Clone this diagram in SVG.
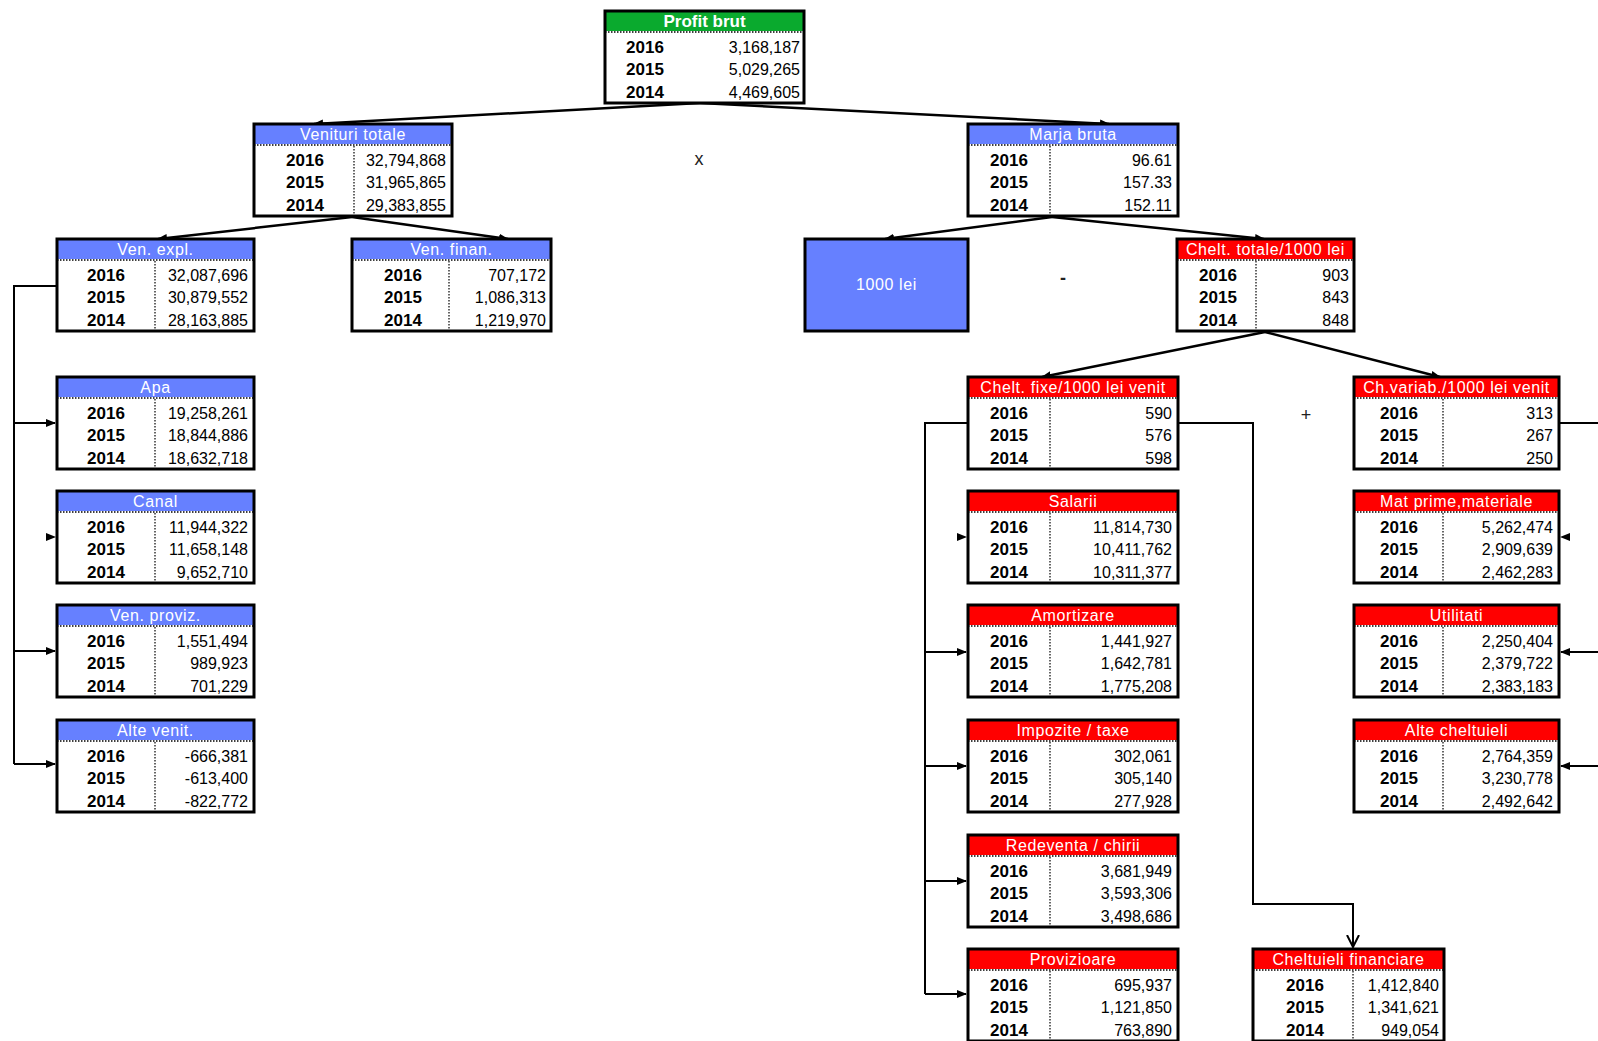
<svg xmlns="http://www.w3.org/2000/svg" width="1598" height="1041" viewBox="0 0 1598 1041">
<style>
text{font-family:"Liberation Sans",Arial,sans-serif;}
.bg{fill:#fff;}
.frame{fill:none;stroke:#000;stroke-width:3;}
.hb{fill:#6680FF;}
.hr{fill:#FF0000;}
.hg{fill:#0AAA2E;}
.sep{stroke:#000;stroke-width:1.5;stroke-dasharray:1.5 1.5;}
.vdiv{stroke:#000;stroke-width:1.2;stroke-dasharray:1.5 1.5;}
.ht{fill:#fff;font-size:16px;text-anchor:middle;letter-spacing:0.6px;}
.htb{fill:#fff;font-size:17px;font-weight:bold;text-anchor:middle;}
.yr{font-size:17px;font-weight:bold;text-anchor:middle;fill:#000;}
.val{font-size:16px;text-anchor:end;fill:#000;}
.conn{stroke:#000;stroke-width:2.5;fill:none;marker-end:url(#ah);}
.bus{stroke:#000;stroke-width:2;fill:none;}
.arr{stroke:#000;stroke-width:2;fill:none;marker-end:url(#ah);}
.tip{stroke:none;fill:none;marker-end:url(#ah);}
.op{font-size:18px;text-anchor:middle;fill:#222;}
</style>
<defs>
<marker id="ah" markerUnits="userSpaceOnUse" markerWidth="10" markerHeight="10" refX="9" refY="5" orient="auto">
<path d="M0,1 L10,5 L0,9 z" fill="#000"/>
</marker>
<marker id="va" markerUnits="userSpaceOnUse" markerWidth="14" markerHeight="14" refX="12" refY="7" orient="auto">
<path d="M0,1 L12,7 L0,13" fill="none" stroke="#000" stroke-width="2"/>
</marker>
</defs>

<g id="connectors">
<path class="conn" d="M700,103 L314,124"/>
<path class="conn" d="M700,103 L1109,124"/>
<path class="conn" d="M352,217 L158,239"/>
<path class="conn" d="M352,217 L508,239"/>
<path class="conn" d="M1052,217 L885,239"/>
<path class="conn" d="M1052,217 L1264,239"/>
<path class="conn" d="M1265,332 L1042,377"/>
<path class="conn" d="M1265,332 L1440,377"/>
<path class="bus" d="M57,286 L14,286 L14,764"/>
<path class="arr" d="M14,423 L55,423"/>
<path class="tip" d="M45,537 L55,537"/>
<path class="arr" d="M14,651 L55,651"/>
<path class="arr" d="M14,764 L55,764"/>
<path class="bus" d="M968,423 L925,423 L925,994"/>
<path class="tip" d="M956,537 L966,537"/>
<path class="arr" d="M925,652 L966,652"/>
<path class="arr" d="M925,766 L966,766"/>
<path class="arr" d="M925,881 L966,881"/>
<path class="arr" d="M925,994 L966,994"/>
<path d="M1178,423 L1253,423 L1253,904 L1353,904 L1353,947" fill="none" stroke="#000" stroke-width="2" marker-end="url(#va)"/>
<path class="bus" d="M1559,423 L1598,423"/>
<path class="tip" d="M1571,537 L1561,537"/>
<path class="arr" d="M1598,652 L1561,652"/>
<path class="arr" d="M1598,766 L1561,766"/>
<text class="op" x="699" y="165">x</text>
<text class="op" x="1063" y="284" font-weight="bold">-</text>
<text class="op" x="1306" y="421">+</text>
</g>

<g id="n-profit" transform="translate(605,11)">
<rect class="bg" width="199" height="92"/><rect class="hg" width="199" height="20"/>
<line class="sep" x1="0" y1="21" x2="199" y2="21"/><rect class="frame" width="199" height="92"/>
<text class="htb" x="99.5" y="16">Profit brut</text>
<text class="yr" x="40" y="42">2016</text><text class="yr" x="40" y="64">2015</text><text class="yr" x="40" y="87">2014</text>
<text class="val" x="195" y="42" font-size="17">3,168,187</text><text class="val" x="195" y="64" font-size="17">5,029,265</text><text class="val" x="195" y="87" font-size="17">4,469,605</text>
</g>

<g id="n-venituri" transform="translate(254,124)">
<rect class="bg" width="198" height="92"/><rect class="hb" width="198" height="20"/>
<line class="sep" x1="0" y1="21" x2="198" y2="21"/><line class="vdiv" x1="100" y1="22" x2="100" y2="92"/><rect class="frame" width="198" height="92"/>
<text class="ht" x="99" y="16">Venituri totale</text>
<text class="yr" x="51" y="42">2016</text><text class="yr" x="51" y="64">2015</text><text class="yr" x="51" y="87">2014</text>
<text class="val" x="192" y="42">32,794,868</text><text class="val" x="192" y="64">31,965,865</text><text class="val" x="192" y="87">29,383,855</text>
</g>

<g id="n-marja" transform="translate(968,124)">
<rect class="bg" width="210" height="92"/><rect class="hb" width="210" height="20"/>
<line class="sep" x1="0" y1="21" x2="210" y2="21"/><line class="vdiv" x1="82" y1="22" x2="82" y2="92"/><rect class="frame" width="210" height="92"/>
<text class="ht" x="105" y="16">Marja bruta</text>
<text class="yr" x="41" y="42">2016</text><text class="yr" x="41" y="64">2015</text><text class="yr" x="41" y="87">2014</text>
<text class="val" x="204" y="42">96.61</text><text class="val" x="204" y="64">157.33</text><text class="val" x="204" y="87">152.11</text>
</g>

<g id="n-venexpl" transform="translate(57,239)">
<rect class="bg" width="197" height="92"/><rect class="hb" width="197" height="20"/>
<line class="sep" x1="0" y1="21" x2="197" y2="21"/><line class="vdiv" x1="98" y1="22" x2="98" y2="92"/><rect class="frame" width="197" height="92"/>
<text class="ht" x="98.5" y="16">Ven. expl.</text>
<text class="yr" x="49" y="42">2016</text><text class="yr" x="49" y="64">2015</text><text class="yr" x="49" y="87">2014</text>
<text class="val" x="191" y="42">32,087,696</text><text class="val" x="191" y="64">30,879,552</text><text class="val" x="191" y="87">28,163,885</text>
</g>

<g id="n-venfinan" transform="translate(352,239)">
<rect class="bg" width="199" height="92"/><rect class="hb" width="199" height="20"/>
<line class="sep" x1="0" y1="21" x2="199" y2="21"/><line class="vdiv" x1="97" y1="22" x2="97" y2="92"/><rect class="frame" width="199" height="92"/>
<text class="ht" x="99.5" y="16">Ven. finan.</text>
<text class="yr" x="51" y="42">2016</text><text class="yr" x="51" y="64">2015</text><text class="yr" x="51" y="87">2014</text>
<text class="val" x="194" y="42">707,172</text><text class="val" x="194" y="64">1,086,313</text><text class="val" x="194" y="87">1,219,970</text>
</g>

<g id="n-1000lei" transform="translate(805,239)">
<rect width="163" height="92" fill="#6680FF" stroke="#000" stroke-width="3"/>
<text class="ht" x="81.5" y="51">1000 lei</text>
</g>

<g id="n-chelttotale" transform="translate(1177,239)">
<rect class="bg" width="177" height="92"/><rect class="hr" width="177" height="20"/>
<line class="sep" x1="0" y1="21" x2="177" y2="21"/><line class="vdiv" x1="79" y1="22" x2="79" y2="92"/><rect class="frame" width="177" height="92"/>
<text class="ht" x="88.5" y="16">Chelt. totale/1000 lei</text>
<text class="yr" x="41" y="42">2016</text><text class="yr" x="41" y="64">2015</text><text class="yr" x="41" y="87">2014</text>
<text class="val" x="172" y="42">903</text><text class="val" x="172" y="64">843</text><text class="val" x="172" y="87">848</text>
</g>

<g id="n-cheltfixe" transform="translate(968,377)">
<rect class="bg" width="210" height="92"/><rect class="hr" width="210" height="20"/>
<line class="sep" x1="0" y1="21" x2="210" y2="21"/><line class="vdiv" x1="82" y1="22" x2="82" y2="92"/><rect class="frame" width="210" height="92"/>
<text class="ht" x="105" y="16">Chelt. fixe/1000 lei venit</text>
<text class="yr" x="41" y="42">2016</text><text class="yr" x="41" y="64">2015</text><text class="yr" x="41" y="87">2014</text>
<text class="val" x="204" y="42">590</text><text class="val" x="204" y="64">576</text><text class="val" x="204" y="87">598</text>
</g>

<g id="n-chvariab" transform="translate(1354,377)">
<rect class="bg" width="205" height="92"/><rect class="hr" width="205" height="20"/>
<line class="sep" x1="0" y1="21" x2="205" y2="21"/><line class="vdiv" x1="89" y1="22" x2="89" y2="92"/><rect class="frame" width="205" height="92"/>
<text class="ht" x="102.5" y="16">Ch.variab./1000 lei venit</text>
<text class="yr" x="45" y="42">2016</text><text class="yr" x="45" y="64">2015</text><text class="yr" x="45" y="87">2014</text>
<text class="val" x="199" y="42">313</text><text class="val" x="199" y="64">267</text><text class="val" x="199" y="87">250</text>
</g>

<g id="n-apa" transform="translate(57,377)">
<rect class="bg" width="197" height="92"/><rect class="hb" width="197" height="20"/>
<line class="sep" x1="0" y1="21" x2="197" y2="21"/><line class="vdiv" x1="98" y1="22" x2="98" y2="92"/><rect class="frame" width="197" height="92"/>
<text class="ht" x="98.5" y="16">Apa</text>
<text class="yr" x="49" y="42">2016</text><text class="yr" x="49" y="64">2015</text><text class="yr" x="49" y="87">2014</text>
<text class="val" x="191" y="42">19,258,261</text><text class="val" x="191" y="64">18,844,886</text><text class="val" x="191" y="87">18,632,718</text>
</g>

<g id="n-canal" transform="translate(57,491)">
<rect class="bg" width="197" height="92"/><rect class="hb" width="197" height="20"/>
<line class="sep" x1="0" y1="21" x2="197" y2="21"/><line class="vdiv" x1="98" y1="22" x2="98" y2="92"/><rect class="frame" width="197" height="92"/>
<text class="ht" x="98.5" y="16">Canal</text>
<text class="yr" x="49" y="42">2016</text><text class="yr" x="49" y="64">2015</text><text class="yr" x="49" y="87">2014</text>
<text class="val" x="191" y="42">11,944,322</text><text class="val" x="191" y="64">11,658,148</text><text class="val" x="191" y="87">9,652,710</text>
</g>

<g id="n-venproviz" transform="translate(57,605)">
<rect class="bg" width="197" height="92"/><rect class="hb" width="197" height="20"/>
<line class="sep" x1="0" y1="21" x2="197" y2="21"/><line class="vdiv" x1="98" y1="22" x2="98" y2="92"/><rect class="frame" width="197" height="92"/>
<text class="ht" x="98.5" y="16">Ven. proviz.</text>
<text class="yr" x="49" y="42">2016</text><text class="yr" x="49" y="64">2015</text><text class="yr" x="49" y="87">2014</text>
<text class="val" x="191" y="42">1,551,494</text><text class="val" x="191" y="64">989,923</text><text class="val" x="191" y="87">701,229</text>
</g>

<g id="n-altevenit" transform="translate(57,720)">
<rect class="bg" width="197" height="92"/><rect class="hb" width="197" height="20"/>
<line class="sep" x1="0" y1="21" x2="197" y2="21"/><line class="vdiv" x1="98" y1="22" x2="98" y2="92"/><rect class="frame" width="197" height="92"/>
<text class="ht" x="98.5" y="16">Alte venit.</text>
<text class="yr" x="49" y="42">2016</text><text class="yr" x="49" y="64">2015</text><text class="yr" x="49" y="87">2014</text>
<text class="val" x="191" y="42">-666,381</text><text class="val" x="191" y="64">-613,400</text><text class="val" x="191" y="87">-822,772</text>
</g>

<g id="n-salarii" transform="translate(968,491)">
<rect class="bg" width="210" height="92"/><rect class="hr" width="210" height="20"/>
<line class="sep" x1="0" y1="21" x2="210" y2="21"/><line class="vdiv" x1="82" y1="22" x2="82" y2="92"/><rect class="frame" width="210" height="92"/>
<text class="ht" x="105" y="16">Salarii</text>
<text class="yr" x="41" y="42">2016</text><text class="yr" x="41" y="64">2015</text><text class="yr" x="41" y="87">2014</text>
<text class="val" x="204" y="42">11,814,730</text><text class="val" x="204" y="64">10,411,762</text><text class="val" x="204" y="87">10,311,377</text>
</g>

<g id="n-amortizare" transform="translate(968,605)">
<rect class="bg" width="210" height="92"/><rect class="hr" width="210" height="20"/>
<line class="sep" x1="0" y1="21" x2="210" y2="21"/><line class="vdiv" x1="82" y1="22" x2="82" y2="92"/><rect class="frame" width="210" height="92"/>
<text class="ht" x="105" y="16">Amortizare</text>
<text class="yr" x="41" y="42">2016</text><text class="yr" x="41" y="64">2015</text><text class="yr" x="41" y="87">2014</text>
<text class="val" x="204" y="42">1,441,927</text><text class="val" x="204" y="64">1,642,781</text><text class="val" x="204" y="87">1,775,208</text>
</g>

<g id="n-impozite" transform="translate(968,720)">
<rect class="bg" width="210" height="92"/><rect class="hr" width="210" height="20"/>
<line class="sep" x1="0" y1="21" x2="210" y2="21"/><line class="vdiv" x1="82" y1="22" x2="82" y2="92"/><rect class="frame" width="210" height="92"/>
<text class="ht" x="105" y="16">Impozite / taxe</text>
<text class="yr" x="41" y="42">2016</text><text class="yr" x="41" y="64">2015</text><text class="yr" x="41" y="87">2014</text>
<text class="val" x="204" y="42">302,061</text><text class="val" x="204" y="64">305,140</text><text class="val" x="204" y="87">277,928</text>
</g>

<g id="n-redeventa" transform="translate(968,835)">
<rect class="bg" width="210" height="92"/><rect class="hr" width="210" height="20"/>
<line class="sep" x1="0" y1="21" x2="210" y2="21"/><line class="vdiv" x1="82" y1="22" x2="82" y2="92"/><rect class="frame" width="210" height="92"/>
<text class="ht" x="105" y="16">Redeventa / chirii</text>
<text class="yr" x="41" y="42">2016</text><text class="yr" x="41" y="64">2015</text><text class="yr" x="41" y="87">2014</text>
<text class="val" x="204" y="42">3,681,949</text><text class="val" x="204" y="64">3,593,306</text><text class="val" x="204" y="87">3,498,686</text>
</g>

<g id="n-provizioare" transform="translate(968,949)">
<rect class="bg" width="210" height="92"/><rect class="hr" width="210" height="20"/>
<line class="sep" x1="0" y1="21" x2="210" y2="21"/><line class="vdiv" x1="82" y1="22" x2="82" y2="92"/><rect class="frame" width="210" height="92"/>
<text class="ht" x="105" y="16">Provizioare</text>
<text class="yr" x="41" y="42">2016</text><text class="yr" x="41" y="64">2015</text><text class="yr" x="41" y="87">2014</text>
<text class="val" x="204" y="42">695,937</text><text class="val" x="204" y="64">1,121,850</text><text class="val" x="204" y="87">763,890</text>
</g>

<g id="n-cheltfin" transform="translate(1253,949)">
<rect class="bg" width="191" height="92"/><rect class="hr" width="191" height="20"/>
<line class="sep" x1="0" y1="21" x2="191" y2="21"/><line class="vdiv" x1="100" y1="22" x2="100" y2="92"/><rect class="frame" width="191" height="92"/>
<text class="ht" x="95.5" y="16">Cheltuieli financiare</text>
<text class="yr" x="52" y="42">2016</text><text class="yr" x="52" y="64">2015</text><text class="yr" x="52" y="87">2014</text>
<text class="val" x="186" y="42">1,412,840</text><text class="val" x="186" y="64">1,341,621</text><text class="val" x="186" y="87">949,054</text>
</g>

<g id="n-matprime" transform="translate(1354,491)">
<rect class="bg" width="205" height="92"/><rect class="hr" width="205" height="20"/>
<line class="sep" x1="0" y1="21" x2="205" y2="21"/><line class="vdiv" x1="89" y1="22" x2="89" y2="92"/><rect class="frame" width="205" height="92"/>
<text class="ht" x="102.5" y="16">Mat prime,materiale</text>
<text class="yr" x="45" y="42">2016</text><text class="yr" x="45" y="64">2015</text><text class="yr" x="45" y="87">2014</text>
<text class="val" x="199" y="42">5,262,474</text><text class="val" x="199" y="64">2,909,639</text><text class="val" x="199" y="87">2,462,283</text>
</g>

<g id="n-utilitati" transform="translate(1354,605)">
<rect class="bg" width="205" height="92"/><rect class="hr" width="205" height="20"/>
<line class="sep" x1="0" y1="21" x2="205" y2="21"/><line class="vdiv" x1="89" y1="22" x2="89" y2="92"/><rect class="frame" width="205" height="92"/>
<text class="ht" x="102.5" y="16">Utilitati</text>
<text class="yr" x="45" y="42">2016</text><text class="yr" x="45" y="64">2015</text><text class="yr" x="45" y="87">2014</text>
<text class="val" x="199" y="42">2,250,404</text><text class="val" x="199" y="64">2,379,722</text><text class="val" x="199" y="87">2,383,183</text>
</g>

<g id="n-altecheltuieli" transform="translate(1354,720)">
<rect class="bg" width="205" height="92"/><rect class="hr" width="205" height="20"/>
<line class="sep" x1="0" y1="21" x2="205" y2="21"/><line class="vdiv" x1="89" y1="22" x2="89" y2="92"/><rect class="frame" width="205" height="92"/>
<text class="ht" x="102.5" y="16">Alte cheltuieli</text>
<text class="yr" x="45" y="42">2016</text><text class="yr" x="45" y="64">2015</text><text class="yr" x="45" y="87">2014</text>
<text class="val" x="199" y="42">2,764,359</text><text class="val" x="199" y="64">3,230,778</text><text class="val" x="199" y="87">2,492,642</text>
</g>
</svg>
